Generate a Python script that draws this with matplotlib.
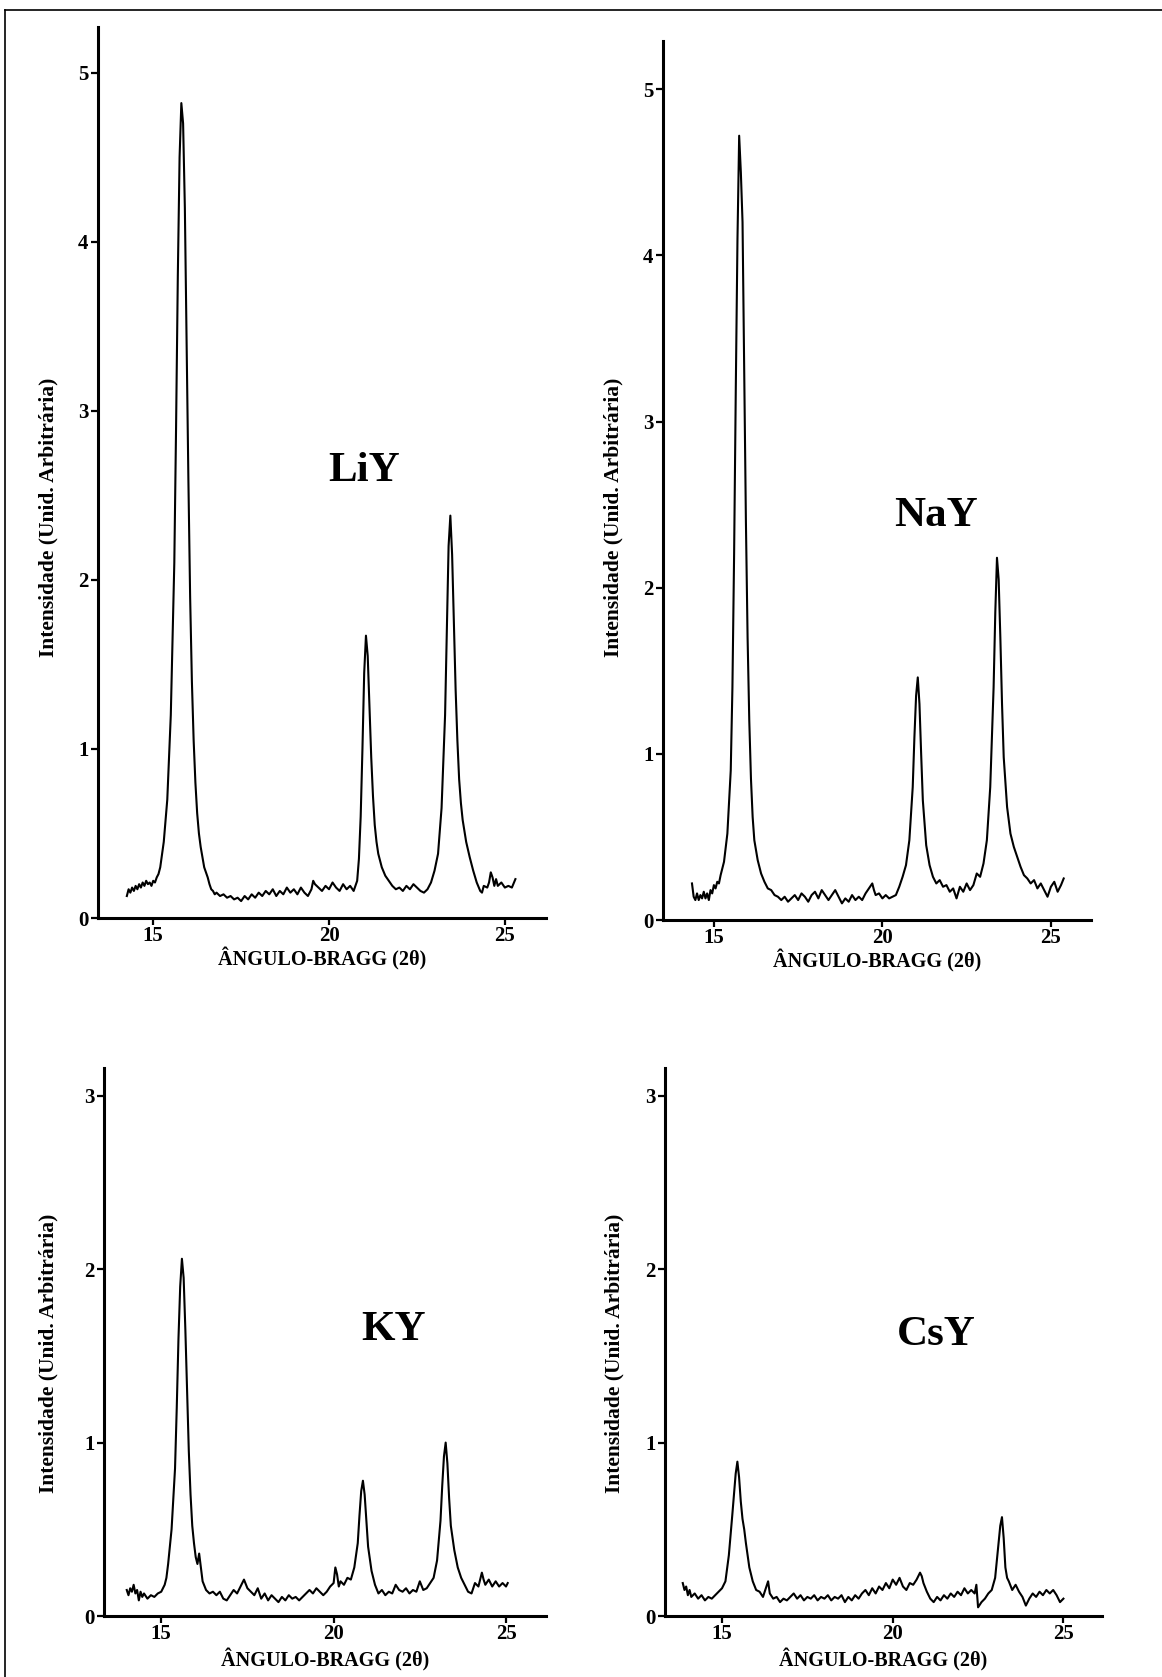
import matplotlib
matplotlib.use("Agg")
import matplotlib.pyplot as plt
from matplotlib.lines import Line2D

plt.rcParams['font.family'] = ['Liberation Serif', 'DejaVu Serif']
plt.rcParams['font.weight'] = 'bold'

# ---- data ----
liy_x = [14.25, 14.3, 14.35, 14.4, 14.45, 14.5, 14.55, 14.6, 14.65, 14.7, 14.75, 14.8, 14.85, 14.9,
         14.95, 15.0, 15.05, 15.1, 15.15, 15.2, 15.3, 15.4, 15.5, 15.6, 15.65, 15.7, 15.75, 15.8,
         15.85, 15.9, 15.95, 16.0, 16.05, 16.1, 16.15, 16.2, 16.25, 16.3, 16.35, 16.4, 16.45, 16.5,
         16.55, 16.6, 16.65, 16.7, 16.75, 16.8, 16.9, 17.0, 17.1, 17.2, 17.3, 17.4, 17.5, 17.6,
         17.7, 17.8, 17.9, 18.0, 18.1, 18.2, 18.3, 18.4, 18.5, 18.6, 18.7, 18.8, 18.9, 19.0, 19.1,
         19.2, 19.3, 19.4, 19.5, 19.55, 19.6, 19.7, 19.8, 19.9, 20.0, 20.1, 20.2, 20.3, 20.4, 20.5,
         20.6, 20.7, 20.8, 20.85, 20.9, 20.95, 21.0, 21.05, 21.1, 21.15, 21.2, 21.25, 21.3, 21.35,
         21.4, 21.5, 21.6, 21.7, 21.8, 21.9, 22.0, 22.1, 22.2, 22.3, 22.4, 22.5, 22.6, 22.7, 22.8,
         22.9, 23.0, 23.1, 23.2, 23.3, 23.35, 23.4, 23.45, 23.5, 23.55, 23.6, 23.65, 23.7, 23.75,
         23.8, 23.9, 24.0, 24.1, 24.2, 24.3, 24.35, 24.4, 24.5, 24.55, 24.6, 24.65, 24.7, 24.75,
         24.8, 24.9, 25.0, 25.1, 25.2, 25.3]
liy_y = [0.13, 0.17, 0.15, 0.18, 0.16, 0.19, 0.17, 0.20, 0.18, 0.21, 0.19, 0.22, 0.20, 0.21,
         0.19, 0.22, 0.21, 0.24, 0.26, 0.30, 0.45, 0.70, 1.20, 2.10, 2.90, 3.80, 4.50, 4.82,
         4.70, 4.20, 3.40, 2.60, 1.90, 1.40, 1.05, 0.80, 0.62, 0.50, 0.42, 0.36, 0.30, 0.27,
         0.24, 0.20, 0.17, 0.16, 0.14, 0.15, 0.13, 0.14, 0.12, 0.13, 0.11, 0.12, 0.10, 0.13,
         0.11, 0.14, 0.12, 0.15, 0.13, 0.16, 0.14, 0.17, 0.13, 0.16, 0.14, 0.18, 0.15, 0.17, 0.14,
         0.18, 0.15, 0.13, 0.17, 0.22, 0.20, 0.18, 0.16, 0.19, 0.17, 0.21, 0.18, 0.16, 0.20, 0.17,
         0.19, 0.16, 0.22, 0.35, 0.60, 1.00, 1.45, 1.67, 1.55, 1.25, 0.95, 0.72, 0.55, 0.45,
         0.38, 0.30, 0.25, 0.22, 0.19, 0.17, 0.18, 0.16, 0.19, 0.17, 0.20, 0.18, 0.16, 0.15, 0.17,
         0.21, 0.28, 0.38, 0.65, 1.20, 1.70, 2.20, 2.38, 2.15, 1.75, 1.35, 1.05, 0.82, 0.68,
         0.58, 0.45, 0.36, 0.28, 0.21, 0.16, 0.15, 0.19, 0.18, 0.21, 0.27, 0.24, 0.19, 0.23,
         0.19, 0.21, 0.18, 0.19, 0.18, 0.23]

nay_x = [14.35, 14.4, 14.45, 14.5, 14.55, 14.6, 14.65, 14.7, 14.75, 14.8, 14.85, 14.9, 14.95,
         15.0, 15.05, 15.1, 15.15, 15.2, 15.3, 15.4, 15.5, 15.55, 15.6, 15.65, 15.7, 15.75, 15.8,
         15.85, 15.9, 15.95, 16.0, 16.05, 16.1, 16.15, 16.2, 16.3, 16.4, 16.5, 16.6, 16.7, 16.8,
         16.9, 17.0, 17.1, 17.2, 17.3, 17.4, 17.5, 17.6, 17.7, 17.8, 17.9, 18.0, 18.1, 18.2, 18.3,
         18.4, 18.5, 18.6, 18.7, 18.8, 18.9, 19.0, 19.1, 19.2, 19.3, 19.4, 19.5, 19.6, 19.7,
         19.75, 19.8, 19.9, 20.0, 20.1, 20.2, 20.3, 20.4, 20.5, 20.6, 20.7, 20.8, 20.9, 20.95,
         21.0, 21.05, 21.1, 21.15, 21.2, 21.3, 21.4, 21.5, 21.6, 21.7, 21.8, 21.9, 22.0, 22.1,
         22.2, 22.3, 22.4, 22.5, 22.6, 22.7, 22.8, 22.9, 23.0, 23.1, 23.2, 23.3, 23.35, 23.4,
         23.45, 23.5, 23.55, 23.6, 23.7, 23.8, 23.9, 24.0, 24.1, 24.2, 24.3, 24.4, 24.5, 24.6,
         24.7, 24.8, 24.9, 25.0, 25.1, 25.2, 25.3, 25.38]
nay_y = [0.22, 0.14, 0.12, 0.16, 0.12, 0.15, 0.13, 0.17, 0.13, 0.16, 0.12, 0.18, 0.16,
         0.21, 0.19, 0.23, 0.22, 0.27, 0.35, 0.52, 0.90, 1.40, 2.20, 3.20, 4.10, 4.72, 4.50,
         4.20, 3.30, 2.40, 1.70, 1.20, 0.85, 0.62, 0.48, 0.36, 0.28, 0.23, 0.19, 0.18, 0.15,
         0.14, 0.12, 0.14, 0.11, 0.13, 0.15, 0.12, 0.16, 0.14, 0.11, 0.15, 0.17, 0.13, 0.18, 0.15,
         0.12, 0.15, 0.18, 0.14, 0.10, 0.13, 0.11, 0.15, 0.12, 0.14, 0.12, 0.16, 0.19, 0.22,
         0.18, 0.15, 0.16, 0.13, 0.15, 0.13, 0.14, 0.15, 0.20, 0.26, 0.33, 0.48, 0.80, 1.10,
         1.35, 1.46, 1.30, 1.00, 0.72, 0.45, 0.33, 0.26, 0.22, 0.24, 0.20, 0.21, 0.17, 0.19,
         0.13, 0.20, 0.17, 0.22, 0.18, 0.21, 0.28, 0.26, 0.34, 0.48, 0.80, 1.40, 1.85, 2.18,
         2.05, 1.70, 1.30, 0.98, 0.68, 0.52, 0.44, 0.38, 0.32, 0.27, 0.25, 0.22, 0.24, 0.19,
         0.22, 0.18, 0.14, 0.20, 0.23, 0.17, 0.21, 0.25]

ky_x = [14.0, 14.05, 14.1, 14.15, 14.2, 14.25, 14.3, 14.35, 14.4, 14.45, 14.5, 14.6, 14.7, 14.8,
        14.9, 15.0, 15.1, 15.15, 15.2, 15.3, 15.4, 15.45, 15.5, 15.55, 15.6, 15.65, 15.7, 15.75,
        15.8, 15.85, 15.9, 15.95, 16.0, 16.05, 16.1, 16.15, 16.2, 16.3, 16.4, 16.5, 16.6, 16.7,
        16.8, 16.9, 17.0, 17.1, 17.2, 17.3, 17.4, 17.5, 17.6, 17.7, 17.8, 17.9, 18.0, 18.1, 18.2,
        18.3, 18.4, 18.5, 18.6, 18.7, 18.8, 18.9, 19.0, 19.1, 19.2, 19.3, 19.4, 19.5, 19.6, 19.7,
        19.8, 19.9, 20.0, 20.05, 20.1, 20.15, 20.2, 20.3, 20.4, 20.5, 20.6, 20.7, 20.75, 20.8,
        20.85, 20.9, 20.95, 21.0, 21.1, 21.2, 21.3, 21.4, 21.5, 21.6, 21.7, 21.8, 21.9, 22.0,
        22.1, 22.2, 22.3, 22.4, 22.5, 22.6, 22.7, 22.8, 22.9, 23.0, 23.1, 23.15, 23.2, 23.25,
        23.3, 23.35, 23.4, 23.5, 23.6, 23.7, 23.8, 23.9, 24.0, 24.1, 24.2, 24.3, 24.35, 24.4,
        24.5, 24.6, 24.7, 24.8, 24.9, 25.0, 25.05]
ky_y = [0.15, 0.12, 0.16, 0.14, 0.18, 0.13, 0.15, 0.09, 0.14, 0.11, 0.13, 0.10, 0.12, 0.11,
        0.13, 0.14, 0.18, 0.22, 0.30, 0.50, 0.85, 1.20, 1.60, 1.90, 2.06, 1.95, 1.65, 1.30,
        0.95, 0.70, 0.52, 0.42, 0.34, 0.30, 0.36, 0.28, 0.20, 0.15, 0.13, 0.14, 0.12, 0.14,
        0.10, 0.09, 0.12, 0.15, 0.13, 0.17, 0.21, 0.16, 0.14, 0.12, 0.16, 0.10, 0.13, 0.09, 0.12,
        0.10, 0.08, 0.11, 0.09, 0.12, 0.10, 0.11, 0.09, 0.11, 0.13, 0.15, 0.13, 0.16, 0.14, 0.12,
        0.14, 0.17, 0.19, 0.28, 0.24, 0.17, 0.20, 0.18, 0.22, 0.21, 0.28, 0.42, 0.58, 0.72,
        0.78, 0.70, 0.55, 0.40, 0.26, 0.18, 0.13, 0.15, 0.12, 0.14, 0.13, 0.18, 0.15, 0.14,
        0.16, 0.13, 0.15, 0.14, 0.20, 0.15, 0.16, 0.19, 0.22, 0.32, 0.55, 0.75, 0.92, 1.00,
        0.88, 0.68, 0.52, 0.38, 0.28, 0.22, 0.18, 0.14, 0.13, 0.19, 0.17, 0.25, 0.21, 0.18,
        0.21, 0.17, 0.20, 0.17, 0.19, 0.17, 0.19]

csy_x = [13.85, 13.9, 13.95, 14.0, 14.05, 14.1, 14.2, 14.3, 14.4, 14.5, 14.6, 14.7, 14.8, 14.9,
         15.0, 15.1, 15.2, 15.3, 15.4, 15.45, 15.5, 15.55, 15.6, 15.65, 15.7, 15.75, 15.8, 15.9,
         16.0, 16.1, 16.2, 16.3, 16.35, 16.4, 16.5, 16.6, 16.7, 16.8, 16.9, 17.0, 17.1, 17.2,
         17.3, 17.4, 17.5, 17.6, 17.7, 17.8, 17.9, 18.0, 18.1, 18.2, 18.3, 18.4, 18.5, 18.6, 18.7,
         18.8, 18.9, 19.0, 19.1, 19.2, 19.3, 19.4, 19.5, 19.6, 19.7, 19.8, 19.9, 20.0, 20.1, 20.2,
         20.3, 20.4, 20.5, 20.6, 20.7, 20.8, 20.85, 20.9, 21.0, 21.1, 21.2, 21.3, 21.4, 21.5, 21.6,
         21.7, 21.8, 21.9, 22.0, 22.1, 22.2, 22.3, 22.4, 22.45, 22.5, 22.6, 22.7, 22.8, 22.9, 23.0,
         23.1, 23.15, 23.2, 23.25, 23.3, 23.35, 23.4, 23.5, 23.6, 23.7, 23.8, 23.9, 24.0, 24.1,
         24.2, 24.3, 24.4, 24.5, 24.6, 24.7, 24.8, 24.9, 25.0]
csy_y = [0.19, 0.15, 0.17, 0.12, 0.15, 0.11, 0.13, 0.10, 0.12, 0.09, 0.11, 0.10, 0.12, 0.14,
         0.16, 0.20, 0.35, 0.58, 0.82, 0.89, 0.80, 0.66, 0.56, 0.50, 0.42, 0.35, 0.28, 0.20,
         0.15, 0.14, 0.11, 0.17, 0.20, 0.13, 0.10, 0.11, 0.08, 0.10, 0.09, 0.11, 0.13, 0.10,
         0.12, 0.09, 0.11, 0.10, 0.12, 0.09, 0.11, 0.10, 0.12, 0.09, 0.11, 0.10, 0.12, 0.08, 0.11,
         0.09, 0.12, 0.10, 0.13, 0.15, 0.12, 0.16, 0.13, 0.17, 0.15, 0.19, 0.16, 0.21, 0.18, 0.22,
         0.17, 0.15, 0.19, 0.18, 0.21, 0.25, 0.23, 0.19, 0.14, 0.10, 0.08, 0.11, 0.09, 0.12, 0.10,
         0.13, 0.11, 0.14, 0.12, 0.16, 0.13, 0.15, 0.13, 0.18, 0.05, 0.08, 0.10, 0.13, 0.15, 0.22,
         0.42, 0.52, 0.57, 0.45, 0.28, 0.22, 0.20, 0.15, 0.18, 0.14, 0.11, 0.06, 0.10, 0.13,
         0.11, 0.14, 0.12, 0.15, 0.13, 0.15, 0.12, 0.08, 0.10]

samples = ['LiY', 'NaY', 'KY', 'CsY']
traces = [(liy_x, liy_y), (nay_x, nay_y), (ky_x, ky_y), (csy_x, csy_y)]

W, H = 1162, 1677
# axes boxes in pixels: left, right, bottom, top
boxes = [(98, 546, 918, 27), (663, 1091, 920, 41), (104, 546, 1616, 1068), (665, 1102, 1616, 1068)]
xlims = [(13.43, 26.17), (13.49, 26.19), (13.34, 26.16), (13.33, 26.13)]
ylims = [(0, 5.27), (0, 5.29), (0, 3.16), (0, 3.16)]
yticks = [[0, 1, 2, 3, 4, 5], [0, 1, 2, 3, 4, 5], [0, 1, 2, 3], [0, 1, 2, 3]]
name_pos = [(0.593, 0.502), (0.638, 0.46), (0.656, 0.522), (0.62, 0.513)]
ylab_pos = [(-0.088, 0.45), (-0.092, 0.458), (-0.103, 0.48), (-0.093, 0.48)]
xlab_pad = [1, 1, 3, 3]

fig = plt.figure(figsize=(W / 100, H / 100), dpi=100)

for i, name in enumerate(samples):
    l, r, b, t = boxes[i]
    ax = fig.add_axes([l / W, 1 - b / H, (r - l) / W, (b - t) / H])
    x, y = traces[i]
    ax.plot(x, y, color='black', lw=1.5)
    ax.set_xlim(*xlims[i])
    ax.set_ylim(*ylims[i])
    ax.set_xticks([15, 20, 25])
    ax.set_yticks(yticks[i])
    for s in ['top', 'right']:
        ax.spines[s].set_visible(False)
    for s in ['left', 'bottom']:
        ax.spines[s].set_linewidth(2.2)
    ax.tick_params(direction='out', length=5, width=1.6, labelsize=15)
    ax.tick_params(axis='x', pad=1)
    ax.tick_params(axis='y', pad=2)
    ax.set_xlabel('ÂNGULO-BRAGG (2θ)', fontsize=14.5, fontweight='bold', labelpad=xlab_pad[i])
    ax.set_ylabel('Intensidade (Unid. Arbitrária)', fontsize=15.5, fontweight='bold')
    ax.yaxis.set_label_coords(*ylab_pos[i])
    ax.text(name_pos[i][0], name_pos[i][1], name, transform=ax.transAxes,
            fontsize=31, fontweight='bold', ha='center', va='center')

# frame lines of the scanned page
fig.add_artist(Line2D([5 / W, 1.0], [1 - 10 / H, 1 - 10 / H], color='black', lw=1.2,
                      transform=fig.transFigure))
fig.add_artist(Line2D([5 / W, 5 / W], [1 - 10 / H, 0.0], color='black', lw=1.2,
                      transform=fig.transFigure))

fig.savefig('out.png', dpi=100, facecolor='white')
